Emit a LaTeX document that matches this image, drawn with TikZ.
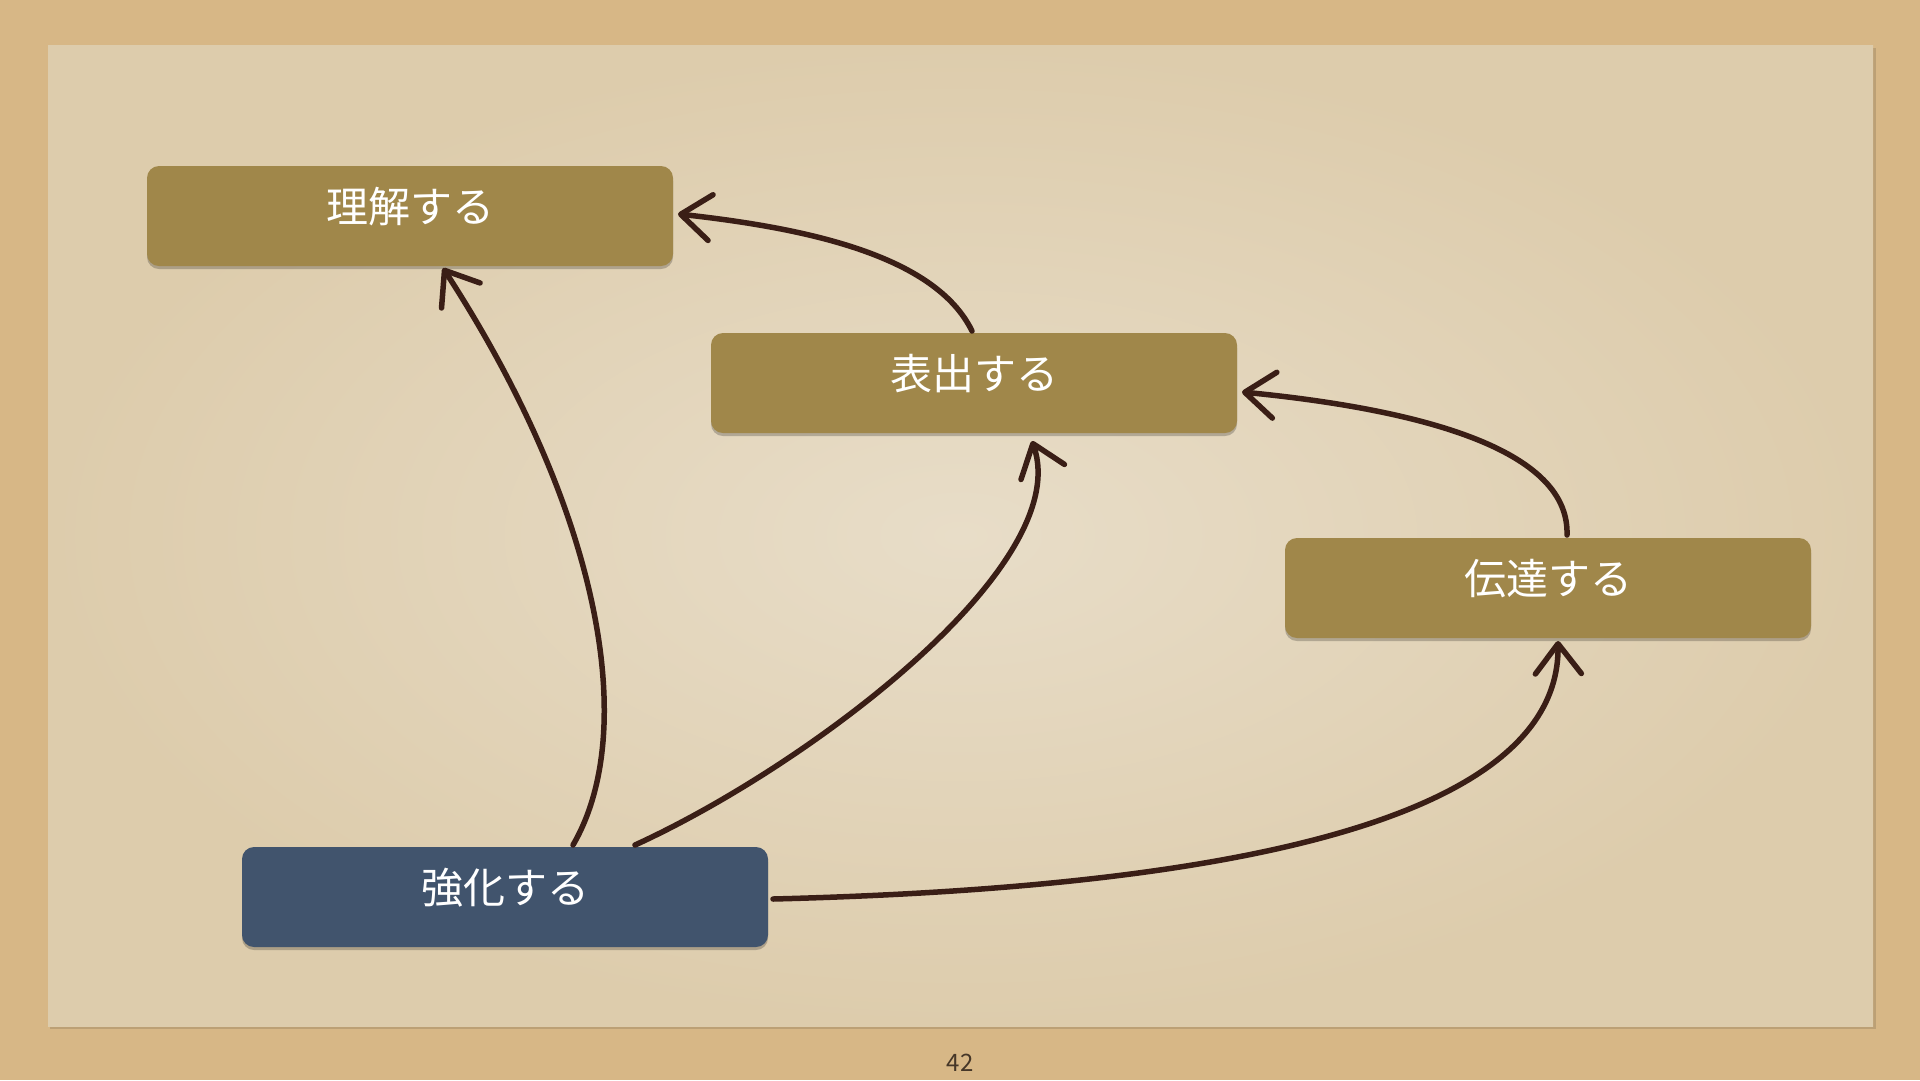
\documentclass[tikz,border=0pt]{standalone}
\usepackage{fontspec}
\newfontfamily\jpfont{Noto Sans CJK JP}
\usetikzlibrary{arrows.meta,shadows}
\definecolor{bgtan}{RGB}{215,183,134}
\definecolor{paperlight}{RGB}{232,221,200}
\definecolor{paperdark}{RGB}{221,204,172}
\definecolor{olivebox}{RGB}{160,135,74}
\definecolor{bluebox}{RGB}{65,84,109}
\definecolor{chalk}{RGB}{58,30,22}
\definecolor{pagenum}{RGB}{70,55,40}
\tikzset{
  stepbox/.style={rounded corners=12pt, minimum width=526pt, minimum height=100pt,
    inner sep=0pt, draw=none,
    drop shadow={shadow xshift=0pt, shadow yshift=-3pt, opacity=0.22, fill=black}},
  olive/.style={stepbox, fill=olivebox},
  bluish/.style={stepbox, fill=bluebox},
  lbl/.style={text=white, font=\jpfont\fontsize{42}{50}\selectfont, inner sep=0pt},
  conn/.style={draw=chalk, line width=5.5pt, line cap=round, line join=round,
    -{Straight Barb[length=30pt, width=46pt, round]}},
}
\begin{document}
\begin{tikzpicture}[x=1pt, y=-1pt]
\useasboundingbox (0,0) rectangle (1920,1080);
\fill[bgtan] (0,0) rectangle (1920,1080);
% paper
\fill[black, opacity=0.12] (50,48) rectangle (1876,1029);
\shade[inner color=paperlight, outer color=paperdark] (48,45) rectangle (1873,1026);
\node[font=\jpfont\fontsize{24}{28}\selectfont, text=pagenum] (pg) at (960,1063) {42};

% boxes
\node[olive] (r) at (410,216) {};
\node[lbl] (rt) at ([yshift=9pt]r.center) {理解する};
\node[olive] (h) at (974,383) {};
\node[lbl] (ht) at ([yshift=9pt]h.center) {表出する};
\node[olive] (d) at (1548,588) {};
\node[lbl] (dt) at ([yshift=9pt]d.center) {伝達する};
\node[bluish] (k) at (505,897) {};
\node[lbl] (kt) at ([yshift=9pt]k.center) {強化する};

% anchor coordinates
\coordinate (k1) at (573,845);
\coordinate (k2) at (635,845);
\coordinate (k3) at (773,899);
\coordinate (r1) at (443,268);
\coordinate (r2) at (678,214);
\coordinate (h1) at (1032,441);
\coordinate (h2) at (972,331);
\coordinate (h3) at (1242,392);
\coordinate (d1) at (1558,641);
\coordinate (d2) at (1567,535);

% connectors
\draw[conn] (k1) .. controls (640,730) and (600,510) .. (r1);
\draw[conn] (k2) .. controls (810,765) and (1075,565) .. (h1);
\draw[conn] (k3) .. controls (1210,888) and (1560,825) .. (d1);
\draw[conn] (h2) .. controls (935,255) and (805,228) .. (r2);
\draw[conn] (d2) .. controls (1570,445) and (1405,408) .. (h3);
\end{tikzpicture}
\end{document}
